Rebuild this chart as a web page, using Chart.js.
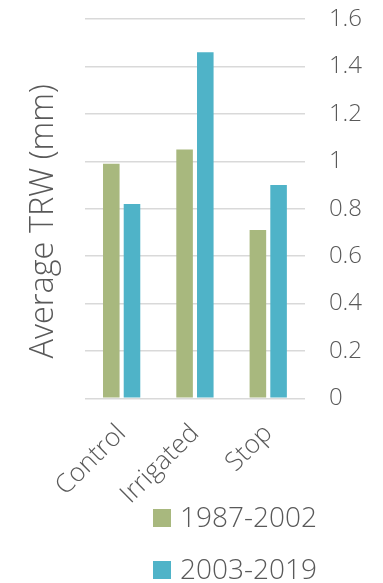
<!DOCTYPE html>
<html>
<head>
<meta charset="utf-8">
<script src="https://cdn.jsdelivr.net/npm/chart.js@4"></script>
<style>
  html, body { margin: 0; padding: 0; background: #ffffff; }
  #wrap { width: 383px; height: 583px; position: relative; }
</style>
</head>
<body>
<div id="wrap"><canvas id="chart"></canvas></div>
<script>
// Tree-ring width by treatment, two periods
const categories = ['Control', 'Irrigated', 'Stop'];
const seriesNames = ['1987-2002', '2003-2019'];
const valuesEarly = [0.99, 1.05, 0.71];
const valuesLate = [0.82, 1.46, 0.90];
const yTickLabels = ['0', '0.2', '0.4', '0.6', '0.8', '1', '1.2', '1.4', '1.6'];
const yAxisTitle = 'Average TRW (mm)';

const GREEN = '#a8b87e';
const BLUE = '#4fb3c8';
const TEXT = '#595959';
const FONT = "'Open Sans', 'Liberation Sans', sans-serif";

// Legend stacked in two rows under the plot
const stackedLegend = {
  id: 'stackedLegend',
  afterDraw(chart) {
    const ctx = chart.ctx;
    ctx.save();
    ctx.font = '300 28px ' + FONT;
    ctx.textBaseline = 'middle';
    ctx.textAlign = 'left';
    chart.data.datasets.forEach((ds, i) => {
      const cy = 518 + i * 52;
      ctx.fillStyle = ds.backgroundColor;
      ctx.fillRect(153, cy - 9, 18, 18);
      ctx.fillStyle = TEXT;
      ctx.fillText(ds.label, 180, cy + 1);
    });
    ctx.restore();
  }
};

new Chart(document.getElementById('chart'), {
  type: 'bar',
  data: {
    labels: categories,
    datasets: [
      { label: seriesNames[0], data: valuesEarly, backgroundColor: GREEN, yAxisID: 'y' },
      { label: seriesNames[1], data: valuesLate, backgroundColor: BLUE, yAxisID: 'y' }
    ]
  },
  options: {
    responsive: true,
    maintainAspectRatio: false,
    animation: false,
    categoryPercentage: 0.565,
    barPercentage: 0.8,
    layout: { padding: { top: 19, right: 21, bottom: 53, left: 24 } },
    plugins: {
      legend: { display: false },
      tooltip: { enabled: false }
    },
    scales: {
      x: {
        grid: { display: false, drawTicks: false },
        border: { display: false },
        ticks: {
          color: TEXT,
          font: { family: FONT, size: 26, weight: 300 },
          minRotation: 45,
          maxRotation: 45,
          padding: 20
        }
      },
      y: {
        position: 'right',
        min: 0,
        max: 1.6,
        grid: { color: '#d9d9d9', lineWidth: 1.5, drawTicks: true, tickLength: 24, tickColor: 'rgba(0,0,0,0)' },
        border: { display: false },
        ticks: {
          stepSize: 0.2,
          color: TEXT,
          padding: 0,
          font: { family: FONT, size: 24, weight: 300 },
          callback: (v, i) => yTickLabels[i]
        }
      },
      yl: {
        position: 'left',
        grid: { display: false, drawTicks: false },
        border: { display: false },
        ticks: { display: false },
        title: {
          display: true,
          text: yAxisTitle + '   ',
          color: TEXT,
          font: { family: FONT, size: 32.5, weight: 300, lineHeight: 1.2 },
          padding: { top: 0, bottom: 22 }
        }
      }
    }
  },
  plugins: [stackedLegend]
});
</script>
</body>
</html>
